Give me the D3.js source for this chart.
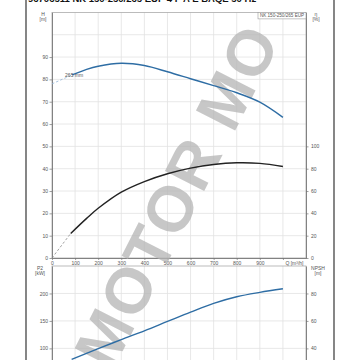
<!DOCTYPE html>
<html><head><meta charset="utf-8">
<script src="https://cdn.jsdelivr.net/npm/d3@7"></script>
<style>
body{margin:0;background:#fff}
svg{display:block}
text{font-family:"Liberation Sans",Arial,sans-serif}
</style></head>
<body><svg id="c" width="360" height="360"></svg>
<script>
// ---- data ----
const titleText = "96706511 NK 150-250/265 EUP  4 P A E BAQE 50 Hz";
const pumpLabel = "NK 150-250/265 EUP";
const impellerLabel = "265 mm";
const qTicks = [0,100,200,300,400,500,600,700,800,900,1000];
const hTicks = [0,10,20,30,40,50,60,70,80,90];
const hGrid = [10,20,30,40,50,60,70,80,90,100];
const etaTicks = [0,20,40,60,80,100];
const pTicks = [100,150,200];
const pGrid = [50,100,150,200];
const npshTicks = [40,60,80];

const headQ = [87,150,200,300,400,500,600,700,800,900,1000];
const headH = [82.0,84.5,85.9,87.2,86.2,83.4,80.3,77.2,74.0,69.8,63.0];
const headDashQ = [0,87];
const headDashH = [78,82];

const effQ = [81,150,200,300,400,500,600,700,800,900,1000];
const effE = [22,35.5,44.5,59,68.5,75.5,80.5,83.8,85.3,84.8,82];
const effDashQ = [0,81];
const effDashE = [0,22];

const powQ = [85,200,300,400,500,600,700,800,900,1000];
const powP = [80,99.5,116,132,149,166,182,194,202,208.5];

const watermark = "MOTOR MO";

// ---- drawing ----
const svg = d3.select("#c");
const x = d3.scaleLinear([0,1100],[52,306]);
const yH = d3.scaleLinear([0,110],[258,12.4]);
const yE = d3.scaleLinear([0,220],[258,12.4]);
const yP = d3.scaleLinear([0,250],[403.3,266]);
const yN = d3.scaleLinear([0,100],[403.3,266]);

const gridC = "#e2e2e2", axisC = "#777", txtC = "#555", fs = 5;

// frame
svg.append("line").attr("x1",26).attr("x2",26).attr("y1",0).attr("y2",360).attr("stroke","#444").attr("stroke-width",1.3);
svg.append("line").attr("x1",334).attr("x2",334).attr("y1",0).attr("y2",360).attr("stroke","#444").attr("stroke-width",1.3);

// title (cut off at top)
svg.append("text").attr("x",28).attr("y",2).attr("font-size",9.5).attr("font-weight","bold").attr("fill","#111").text(titleText);

const wmLayer = svg.append("g");

// ---------- upper chart ----------
const up = svg.append("g");
up.selectAll(".vg").data(qTicks.slice(1)).join("line")
  .attr("x1",d=>x(d)).attr("x2",d=>x(d)).attr("y1",yH(110)).attr("y2",yH(0)).attr("stroke",gridC).attr("stroke-width",0.8);
up.selectAll(".hg").data(hGrid).join("line")
  .attr("x1",x(0)).attr("x2",x(1100)).attr("y1",d=>yH(d)).attr("y2",d=>yH(d)).attr("stroke",gridC).attr("stroke-width",0.8);
up.append("rect").attr("x",x(0)).attr("y",yH(110)).attr("width",x(1100)-x(0)).attr("height",yH(0)-yH(110))
  .attr("fill","none").attr("stroke","#aaa").attr("stroke-width",0.8);

function styleAxis(g){
  g.selectAll("path").attr("stroke",axisC).attr("stroke-width",0.9);
  g.selectAll("line").attr("stroke",axisC).attr("stroke-width",0.7);
  g.selectAll("text").attr("font-size",fs).attr("fill",txtC).attr("font-family","Liberation Sans, Arial, sans-serif");
}
const axL = up.append("g").attr("transform",`translate(${x(0)},0)`)
  .call(d3.axisLeft(yH).tickValues(hTicks).tickSize(2.5).tickPadding(1.5).tickSizeOuter(0));
styleAxis(axL);
const axR = up.append("g").attr("transform",`translate(${x(1100)},0)`)
  .call(d3.axisRight(yE).tickValues(etaTicks).tickSize(2.5).tickPadding(2.5).tickSizeOuter(0));
styleAxis(axR);
const axB = up.append("g").attr("transform",`translate(0,${yH(0)})`)
  .call(d3.axisBottom(x).tickValues(qTicks).tickFormat(d=>d===1000?"":d).tickSize(2).tickPadding(1).tickSizeOuter(0));
styleAxis(axB);
up.append("text").attr("x",x(1050)).attr("y",yH(0)+7).attr("text-anchor","middle").attr("font-size",fs).attr("fill",txtC).text("Q [m³/h]");

up.append("text").attr("x",43).attr("y",15.5).attr("text-anchor","middle").attr("font-size",fs).attr("fill",txtC).text("H");
up.append("text").attr("x",43).attr("y",20.5).attr("text-anchor","middle").attr("font-size",fs).attr("fill",txtC).text("[m]");
up.append("text").attr("x",316).attr("y",15.5).attr("text-anchor","middle").attr("font-size",fs).attr("fill",txtC).text("η");
up.append("text").attr("x",316).attr("y",20.5).attr("text-anchor","middle").attr("font-size",fs).attr("fill",txtC).text("[%]");

// pump label box
const bx1 = x(1100);
up.append("rect").attr("x",258).attr("y",yH(110)).attr("width",bx1-258).attr("height",6.5)
  .attr("fill","#fff").attr("stroke","#999").attr("stroke-width",0.6);
up.append("text").attr("x",(258+bx1)/2).attr("y",yH(110)+5).attr("text-anchor","middle").attr("font-size",4.6).attr("fill",txtC).text(pumpLabel);

// ---------- lower chart (grid) ----------
const lo = svg.append("g");
lo.selectAll(".vg").data(qTicks.slice(1)).join("line")
  .attr("x1",d=>x(d)).attr("x2",d=>x(d)).attr("y1",yP(250)).attr("y2",yP(0)).attr("stroke",gridC).attr("stroke-width",0.8);
lo.selectAll(".hg").data(pGrid).join("line")
  .attr("x1",x(0)).attr("x2",x(1100)).attr("y1",d=>yP(d)).attr("y2",d=>yP(d)).attr("stroke",gridC).attr("stroke-width",0.8);
lo.append("rect").attr("x",x(0)).attr("y",yP(250)).attr("width",x(1100)-x(0)).attr("height",yP(0)-yP(250))
  .attr("fill","none").attr("stroke","#aaa").attr("stroke-width",0.8);
const axPL = lo.append("g").attr("transform",`translate(${x(0)},0)`)
  .call(d3.axisLeft(yP).tickValues(pTicks).tickSize(2.5).tickPadding(1.5).tickSizeOuter(0));
styleAxis(axPL);
const axPR = lo.append("g").attr("transform",`translate(${x(1100)},0)`)
  .call(d3.axisRight(yN).tickValues(npshTicks).tickSize(2.5).tickPadding(2.5).tickSizeOuter(0));
styleAxis(axPR);
lo.append("text").attr("x",40).attr("y",270).attr("text-anchor","middle").attr("font-size",fs).attr("fill",txtC).text("P2");
lo.append("text").attr("x",40).attr("y",275).attr("text-anchor","middle").attr("font-size",fs).attr("fill",txtC).text("[kW]");
lo.append("text").attr("x",318).attr("y",270).attr("text-anchor","middle").attr("font-size",fs).attr("fill",txtC).text("NPSH");
lo.append("text").attr("x",318).attr("y",275).attr("text-anchor","middle").attr("font-size",fs).attr("fill",txtC).text("[m]");

// watermark (under the curves)
const wm = svg.append("text").attr("transform","translate(112,372) rotate(-63)")
  .attr("font-size",64).attr("font-weight","bold").attr("fill","#b4b4b4").attr("fill-opacity",0.75)
  .attr("font-family","Liberation Sans, Arial, sans-serif").attr("letter-spacing",2).text(watermark);

// curves
const lineH = d3.line().x(d=>x(d[0])).y(d=>yH(d[1])).curve(d3.curveCatmullRom);
const lineE = d3.line().x(d=>x(d[0])).y(d=>yE(d[1])).curve(d3.curveCatmullRom);
const lineP = d3.line().x(d=>x(d[0])).y(d=>yP(d[1])).curve(d3.curveCatmullRom);
const cv = svg.append("g");
cv.append("path").attr("d",lineH(d3.zip(headDashQ,headDashH))).attr("fill","none").attr("stroke","#8fb3d6").attr("stroke-width",0.8).attr("stroke-dasharray","2.5,2");
cv.append("path").attr("d",lineE(d3.zip(effDashQ,effDashE))).attr("fill","none").attr("stroke","#888").attr("stroke-width",0.8).attr("stroke-dasharray","2.5,2");
cv.append("path").attr("d",lineH(d3.zip(headQ,headH))).attr("fill","none").attr("stroke","#2e6da4").attr("stroke-width",1.4);
cv.append("path").attr("d",lineE(d3.zip(effQ,effE))).attr("fill","none").attr("stroke","#222").attr("stroke-width",1.4);
cv.append("path").attr("d",lineP(d3.zip(powQ,powP))).attr("fill","none").attr("stroke","#2e6da4").attr("stroke-width",1.4);
cv.append("text").attr("x",x(headQ[0])-7).attr("y",yH(headH[0])+1.8).attr("font-size",fs).attr("fill",txtC).text(impellerLabel);
</script></body></html>
